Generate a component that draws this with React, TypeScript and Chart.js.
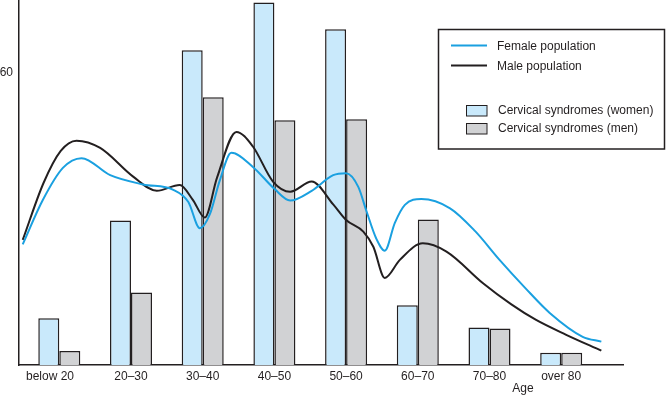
import React, { useEffect, useRef } from 'react';
import { Chart, registerables } from 'chart.js';

Chart.register(...registerables);

// ---- data ----
const categories = ['below 20', '20–30', '30–40', '40–50', '50–60', '60–70', '70–80', 'over 80'];
const categoryAges = [15, 25, 35, 45, 55, 65, 75, 85];
const tickAges = [13.7, 25, 35, 45, 55, 65, 75, 85];
const womenSyndromes = [9.6, 29.7, 64.7, 74.5, 69.0, 12.3, 7.7, 2.5];
const menSyndromes = [2.9, 14.9, 55.0, 50.3, 50.5, 29.9, 7.5, 2.5];

const femaleAges = [9.9, 12.7, 15.5, 18.1, 22.1, 26.7, 30.9, 33.0, 34.6, 36.0, 37.4, 39.0, 42.0, 45.0, 47.2, 50.2, 53.2, 55.0, 56.7, 57.8, 59.2, 60.4, 61.8, 63.2, 65.5, 69.5, 73.0, 76.4, 80.0, 83.4, 88.0, 90.6];
const femaleValues = [24.8, 33.9, 40.5, 42.5, 39.0, 37.1, 36.0, 33.5, 28.1, 31.0, 38.0, 43.6, 40.7, 36.2, 33.8, 35.8, 39.0, 39.4, 36.6, 31.8, 26.0, 23.5, 29.2, 32.9, 34.1, 32.2, 27.5, 21.6, 15.8, 10.7, 5.8, 4.8];
const maleAges = [9.9, 12.8, 15.2, 17.4, 20.7, 25.3, 28.6, 31.8, 33.6, 35.3, 37.0, 39.7, 42.0, 44.8, 47.2, 50.2, 53.2, 55.0, 57.4, 58.8, 60.4, 62.5, 65.7, 69.0, 74.1, 78.0, 81.5, 85.7, 90.6];
const maleValues = [25.7, 37.4, 44.0, 46.1, 44.6, 38.7, 35.8, 37.0, 34.0, 30.3, 38.5, 47.9, 44.9, 37.7, 35.6, 37.7, 33.0, 29.8, 27.4, 24.3, 17.9, 21.6, 25.0, 23.3, 16.8, 12.5, 9.25, 6.2, 2.94];

const yTicks = [60];

const INK = '#231f20';
const BLUE_LINE = '#1aa0e0';
const WOMEN_FILL = '#c9e9fb';
const MEN_FILL = '#d1d2d4';
const FONT = '"Liberation Sans", Arial, sans-serif';

const decorPlugin = {
  id: 'decor',
  afterDraw(chart: any) {
    const ctx = chart.ctx;
    const ds = chart.data.datasets;
    ctx.save();
    ctx.strokeStyle = INK;
    ctx.lineWidth = 1.5;
    ctx.strokeRect(438.5, 29.5, 226, 119.5);
    ctx.font = `12px ${FONT}`;
    ctx.fillStyle = INK;
    ctx.textBaseline = 'middle';
    ctx.textAlign = 'left';
    const lineEntries = [
      { ds: ds[0], y: 45.5 },
      { ds: ds[1], y: 65.5 },
    ];
    lineEntries.forEach((e) => {
      ctx.strokeStyle = e.ds.borderColor;
      ctx.lineWidth = 2;
      ctx.beginPath();
      ctx.moveTo(451, e.y);
      ctx.lineTo(487, e.y);
      ctx.stroke();
      ctx.fillStyle = INK;
      ctx.fillText(e.ds.label, 497, e.y + 1);
    });
    const barEntries = [
      { ds: ds[2], y: 105 },
      { ds: ds[3], y: 123 },
    ];
    barEntries.forEach((e) => {
      ctx.fillStyle = e.ds.backgroundColor;
      ctx.fillRect(466.5, e.y + 0.5, 20.5, 10.5);
      ctx.strokeStyle = INK;
      ctx.lineWidth = 1;
      ctx.strokeRect(466.5, e.y + 0.5, 20.5, 10.5);
      ctx.fillStyle = INK;
      ctx.fillText(e.ds.label, 498, e.y + 6);
    });
    ctx.textAlign = 'center';
    ctx.fillText('Age', 523, 389);
    ctx.restore();
  },
};

export default function App() {
  const ref = useRef<HTMLCanvasElement>(null);

  useEffect(() => {
    if (!ref.current) return;
    const chart = new Chart(ref.current, {
      type: 'bar',
      data: {
        datasets: [
          {
            type: 'line',
            label: 'Female population',
            data: femaleAges.map((x, i) => ({ x, y: femaleValues[i] })),
            borderColor: BLUE_LINE,
            borderWidth: 2,
            pointRadius: 0,
            cubicInterpolationMode: 'monotone',
            fill: false,
            order: 0,
          },
          {
            type: 'line',
            label: 'Male population',
            data: maleAges.map((x, i) => ({ x, y: maleValues[i] })),
            borderColor: INK,
            borderWidth: 2,
            pointRadius: 0,
            cubicInterpolationMode: 'monotone',
            fill: false,
            order: 0,
          },
          {
            type: 'bar',
            label: 'Cervical syndromes (women)',
            data: categoryAges.map((x, i) => ({ x, y: womenSyndromes[i] })),
            backgroundColor: WOMEN_FILL,
            borderColor: INK,
            borderWidth: 1.5,
            barPercentage: 1,
            categoryPercentage: 0.586,
            order: 1,
          },
          {
            type: 'bar',
            label: 'Cervical syndromes (men)',
            data: categoryAges.map((x, i) => ({ x, y: menSyndromes[i] })),
            backgroundColor: MEN_FILL,
            borderColor: INK,
            borderWidth: 1.5,
            barPercentage: 1,
            categoryPercentage: 0.586,
            order: 1,
          },
        ] as any,
      },
      options: {
        responsive: false,
        animation: false,
        layout: { autoPadding: false, padding: { top: 0, right: 43, left: 0, bottom: 0 } },
        plugins: {
          legend: { display: false },
          tooltip: { enabled: false },
        },
        scales: {
          x: {
            type: 'linear',
            offset: false,
            min: 9.38,
            max: 93.62,
            grid: { display: false, drawTicks: false, offset: false },
            border: { display: true, color: INK, width: 1.5 },
            afterBuildTicks: (scale: any) => {
              scale.ticks = tickAges.map((v) => ({ value: v }));
            },
            afterFit: (scale: any) => {
              scale.height = 31;
              scale.paddingLeft = 0;
              scale.paddingRight = 0;
            },
            ticks: {
              autoSkip: false,
              maxRotation: 0,
              padding: 4,
              color: INK,
              font: { family: FONT, size: 12 },
              callback: (_v: any, i: number) => categories[i],
            },
          },
          y: {
            type: 'linear',
            min: 0,
            max: 75,
            grid: { display: false, drawTicks: false },
            border: { display: true, color: INK, width: 1.5 },
            afterBuildTicks: (scale: any) => {
              scale.ticks = yTicks.map((v) => ({ value: v }));
            },
            afterFit: (scale: any) => {
              scale.width = 19;
              scale.paddingTop = 0;
              scale.paddingBottom = 0;
            },
            ticks: {
              padding: 6,
              color: INK,
              font: { family: FONT, size: 12 },
              callback: (v: any) => String(v),
            },
          },
        },
      } as any,
      plugins: [decorPlugin],
    });
    return () => chart.destroy();
  }, []);

  return (
    <div style={{ position: 'fixed', left: 0, top: 0, width: 666, height: 396, background: '#fff' }}>
      <canvas ref={ref} width={666} height={396} />
    </div>
  );
}
